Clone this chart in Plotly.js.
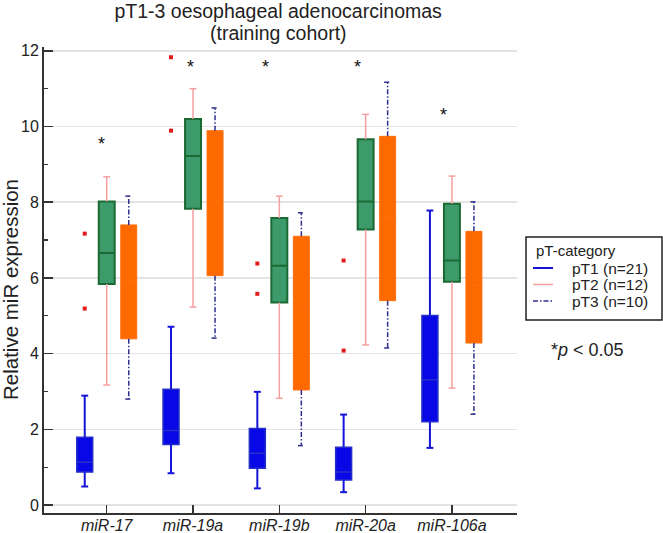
<!DOCTYPE html>
<html><head><meta charset="utf-8">
<script src="https://cdn.plot.ly/plotly-3.0.1.min.js"></script>
<style>html,body{margin:0;padding:0;background:#fff}#chart{width:663px;height:533px}</style>
</head><body><div id="chart"></div>
<script>
// ---- data ----
const categories = ['miR-17', 'miR-19a', 'miR-19b', 'miR-20a', 'miR-106a'];
const groupNames = ['pT1 (n=21)', 'pT2 (n=12)', 'pT3 (n=10)'];
const legendTitle = 'pT-category';

const pT1Lower  = [0.49, 0.84, 0.44, 0.34, 1.51];
const pT1Q1     = [0.87, 1.60, 0.97, 0.66, 2.20];
const pT1Median = [1.13, 1.97, 1.37, 0.87, 3.31];
const pT1Q3     = [1.79, 3.06, 2.02, 1.53, 5.01];
const pT1Upper  = [2.89, 4.71, 2.99, 2.39, 7.78];

const pT2Lower  = [3.17, 5.23, 2.82, 4.23, 3.09];
const pT2Q1     = [5.84, 7.83, 5.35, 7.28, 5.90];
const pT2Median = [6.66, 9.22, 6.32, 8.02, 6.46];
const pT2Q3     = [8.02, 10.20, 7.58, 9.66, 7.96];
const pT2Upper  = [8.67, 11.00, 8.16, 10.32, 8.69];

const pT3Lower  = [2.80, 4.41, 1.57, 4.15, 2.40];
const pT3Q1     = [4.39, 6.06, 3.04, 5.40, 4.28];
const pT3Median = [5.9, 8.0, 5.1, 7.6, 5.8];
const pT3Q3     = [7.40, 9.89, 7.10, 9.74, 7.23];
const pT3Upper  = [8.16, 10.49, 7.72, 11.17, 8.01];

// outliers (category index, value)
const outlierCat = [0, 0, 1, 1, 2, 2, 3, 3];
const outlierVal = [7.17, 5.19, 11.83, 9.89, 6.38, 5.58, 6.46, 4.08];

// significance asterisks (offset from category centre, value)
const starOffset = [-0.058, -0.035, -0.166, -0.10, -0.093];
const starVal    = [9.64, 11.67, 11.67, 11.69, 10.42];

// ---- style ----
const groupOffset = [-0.255, 0, 0.255];
const groupColor = ['#1414d8', '#f5a0a0', '#2e2e8f'];
const groupWidth = [2, 1.5, 1.5];
const groupDash = ['solid', 'solid', '5px,2px,1.5px,2px'];
const boxWidth = 0.185;
const capHalf = 0.04;
const FONT = 'Liberation Sans, Arial, Helvetica, sans-serif';

// plot area in pixels (for paper-coordinate placement of legend/labels)
const PL = 44, PR = 517, PT = 47, PB = 513;
const px = v => (v - PL) / (PR - PL);
const py = v => (PB - v) / (PB - PT);

function positions(g) { return categories.map((c, i) => i + groupOffset[g]); }

function boxTrace(g, q1, med, q3, fill, line, lw) {
  return {
    type: 'box', orientation: 'v', x: positions(g), name: groupNames[g],
    q1: q1, median: med, q3: q3, lowerfence: q1, upperfence: q3,
    width: boxWidth, fillcolor: fill, line: {color: line, width: lw},
    boxpoints: false, whiskerwidth: 0, showlegend: false, hoverinfo: 'skip'
  };
}

function whiskerTrace(g, lower, q1, q3, upper) {
  const xs = [], ys = [];
  categories.forEach((c, i) => {
    const p = i + groupOffset[g];
    xs.push(p, p, null, p - capHalf, p + capHalf, null, p, p, null, p - capHalf, p + capHalf, null);
    ys.push(q3[i], upper[i], null, upper[i], upper[i], null, q1[i], lower[i], null, lower[i], lower[i], null);
  });
  return {
    type: 'scatter', mode: 'lines', x: xs, y: ys, connectgaps: false,
    name: groupNames[g], line: {color: groupColor[g], width: groupWidth[g], dash: groupDash[g]},
    showlegend: false, hoverinfo: 'skip'
  };
}

const traces = [
  boxTrace(0, pT1Q1, pT1Median, pT1Q3, '#0808e6', '#2430c8', 1.5),
  boxTrace(1, pT2Q1, pT2Median, pT2Q3, '#3c9a6b', '#1b6a33', 2),
  boxTrace(2, pT3Q1, pT3Median, pT3Q3, '#ff6a00', '#ff6f0a', 1),
  whiskerTrace(0, pT1Lower, pT1Q1, pT1Q3, pT1Upper),
  whiskerTrace(1, pT2Lower, pT2Q1, pT2Q3, pT2Upper),
  whiskerTrace(2, pT3Lower, pT3Q1, pT3Q3, pT3Upper),
  {
    type: 'scatter', mode: 'markers', name: 'outliers',
    x: outlierCat.map(c => c + groupOffset[0]), y: outlierVal,
    marker: {symbol: 'square', size: 4, color: '#e41a1a'},
    showlegend: false, hoverinfo: 'skip'
  }
];

const annotations = categories.map((c, i) => ({
  x: i + starOffset[i], y: starVal[i], xref: 'x', yref: 'y',
  text: '*', showarrow: false, yshift: -4,
  font: {family: FONT, size: 18, color: '#111'}
}));
annotations.push({
  x: 0.495, xref: 'paper', y: 1.030, yref: 'paper', xanchor: 'center', yanchor: 'middle',
  text: '(training cohort)', showarrow: false,
  font: {family: FONT, size: 19.5, color: '#222'}
});
annotations.push({
  x: px(587), xref: 'paper', y: py(350), yref: 'paper', xanchor: 'center', yanchor: 'middle',
  text: '*<i>p</i> &lt; 0.05', showarrow: false,
  font: {family: FONT, size: 18, color: '#222'}
});
// y-axis title
annotations.push({
  x: px(10), xref: 'paper', y: py(290), yref: 'paper', xanchor: 'center', yanchor: 'middle',
  text: 'Relative miR expression', textangle: -90, showarrow: false,
  font: {family: FONT, size: 20.5, color: '#222'}
});

// legend (box, title, samples, labels)
const shapes = [{
  type: 'rect', xref: 'paper', yref: 'paper',
  x0: px(526), x1: px(662), y0: py(320), y1: py(237),
  line: {color: '#222', width: 1.5}, fillcolor: 'rgba(255,255,255,0)', layer: 'above'
}];
annotations.push({
  x: px(534), xref: 'paper', y: py(250), yref: 'paper', xanchor: 'left', yanchor: 'middle',
  text: legendTitle, showarrow: false, font: {family: FONT, size: 15, color: '#222'}
});
const legendRows = [268, 284.5, 301];
groupNames.forEach((n, g) => {
  shapes.push({
    type: 'line', xref: 'paper', yref: 'paper',
    x0: px(533), x1: px(553), y0: py(legendRows[g]), y1: py(legendRows[g]),
    line: {color: groupColor[g], width: groupWidth[g], dash: groupDash[g]}, layer: 'above'
  });
  annotations.push({
    x: px(570), xref: 'paper', y: py(legendRows[g]), yref: 'paper', xanchor: 'left', yanchor: 'middle',
    text: n, showarrow: false, font: {family: FONT, size: 15.5, color: '#222'}
  });
});

const layout = {
  width: 663, height: 533,
  margin: {l: PL, r: 663 - PR, t: PT, b: 533 - PB, pad: 0},
  paper_bgcolor: '#ffffff', plot_bgcolor: '#ffffff',
  font: {family: FONT, color: '#222'},
  title: {
    text: 'pT1-3 oesophageal adenocarcinomas',
    font: {family: FONT, size: 19.5, color: '#222'},
    x: 0.495, xref: 'paper', xanchor: 'center',
    y: 1 - 11 / 533, yref: 'container', yanchor: 'middle'
  },
  boxmode: 'overlay',
  showlegend: false,
  xaxis: {
    range: [-0.727, 4.754], tickmode: 'array', tickvals: [0, 1, 2, 3, 4], ticktext: categories,
    showline: true, linecolor: '#333', linewidth: 2,
    ticks: 'inside', ticklen: 8, tickwidth: 1.5, tickcolor: '#333',
    showgrid: false, zeroline: false, ticklabelstandoff: -3,
    tickfont: {family: FONT, size: 16, style: 'italic', color: '#222'},
    fixedrange: true
  },
  yaxis: {
    range: [-0.21, 12.1], tick0: 0, dtick: 2,
    showline: true, linecolor: '#333', linewidth: 2,
    ticks: 'inside', ticklen: 9, tickwidth: 1.5, tickcolor: '#333',
    showgrid: true, gridcolor: '#e3e3e3', gridwidth: 1.5, zeroline: false,
    tickfont: {family: FONT, size: 16, color: '#222'},
    minor: {ticks: 'inside', ticklen: 4, tickwidth: 1.2, tickcolor: '#333', dtick: 1, tick0: 0, showgrid: false},
    fixedrange: true
  },
  shapes: shapes,
  annotations: annotations
};

Plotly.newPlot('chart', traces, layout, {displayModeBar: false, staticPlot: true});
</script>
</body></html>
